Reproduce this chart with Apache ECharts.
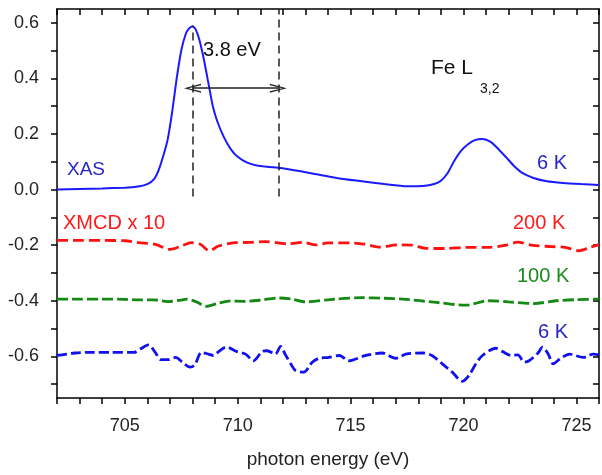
<!DOCTYPE html>
<html><head><meta charset="utf-8">
<script src="https://cdn.jsdelivr.net/npm/echarts@6/dist/echarts.min.js"></script>
<style>html,body{margin:0;padding:0;background:#fff}#c{width:602px;height:475px}</style>
</head><body><div id="c"></div>
<script>
// XAS (6 K)
const xasE = [702.0,703.0,704.0,705.0,705.5,706.0,706.3,706.5,706.7,706.9,707.1,707.3,707.5,707.7,707.85,708.0,708.15,708.3,708.5,708.7,708.9,709.1,709.4,709.7,710.0,710.4,710.8,711.3,711.9,712.8,713.5,714.5,715.5,716.5,717.5,718.2,718.7,719.0,719.3,719.6,719.9,720.2,720.5,720.85,721.2,721.5,721.9,722.25,722.6,723.1,723.7,724.4,725.2,726.0];
const xasV = [0.000,0.002,0.004,0.007,0.010,0.020,0.038,0.07,0.12,0.18,0.28,0.40,0.50,0.56,0.58,0.588,0.575,0.54,0.47,0.385,0.30,0.245,0.187,0.145,0.118,0.098,0.088,0.082,0.078,0.066,0.055,0.040,0.030,0.020,0.012,0.013,0.020,0.032,0.06,0.105,0.14,0.163,0.178,0.182,0.172,0.15,0.115,0.084,0.06,0.042,0.030,0.024,0.020,0.017];
// XMCD x 10, 200 K
const x200E = [702,703,704,705,705.6,706.35,707.0,707.5,707.95,708.35,708.75,709.15,709.9,710.5,711.2,712.2,712.9,713.45,714.0,715.0,715.6,716.25,717.1,717.7,718.3,719.2,720.1,721.0,721.9,722.4,723.0,723.9,724.5,725.1,725.6,726];
const x200V = [-0.183,-0.183,-0.183,-0.184,-0.191,-0.197,-0.215,-0.203,-0.191,-0.197,-0.22,-0.203,-0.191,-0.19,-0.187,-0.195,-0.19,-0.199,-0.192,-0.192,-0.196,-0.207,-0.199,-0.2,-0.211,-0.212,-0.208,-0.208,-0.2,-0.189,-0.2,-0.205,-0.208,-0.22,-0.208,-0.198];
// XMCD x 10, 100 K
const x100E = [702,703,704,705,705.6,706.3,706.9,707.4,707.75,708.2,708.6,709.1,709.6,710.3,711.0,711.8,712.4,713.0,714.3,715.5,716.5,717.3,718.8,720.1,721.1,722.0,723.1,724.1,725,726];
const x100V = [-0.394,-0.394,-0.394,-0.395,-0.397,-0.397,-0.403,-0.399,-0.394,-0.405,-0.42,-0.41,-0.401,-0.402,-0.398,-0.39,-0.394,-0.404,-0.394,-0.389,-0.391,-0.394,-0.406,-0.416,-0.40,-0.404,-0.41,-0.40,-0.396,-0.394];
// XMCD x 10, 6 K
const x6E = [702,702.8,703.4,704.4,705.4,705.7,706.05,706.35,706.6,706.95,707.25,707.55,707.9,708.1,708.4,708.7,708.93,709.08,709.5,709.97,710.35,710.7,711.08,711.3,711.67,711.9,712.1,712.35,712.56,712.93,713.3,713.6,714.04,714.5,714.93,715.67,716.4,717.0,717.45,718.2,718.6,719.06,719.5,719.95,720.24,720.55,720.84,721.43,721.73,722.1,722.4,722.7,722.9,723.3,723.5,723.75,723.97,724.27,724.7,725.3,725.75,726];
const x6V = [-0.597,-0.588,-0.586,-0.586,-0.586,-0.573,-0.559,-0.586,-0.612,-0.612,-0.604,-0.621,-0.639,-0.631,-0.586,-0.592,-0.597,-0.588,-0.567,-0.583,-0.592,-0.616,-0.583,-0.580,-0.592,-0.564,-0.592,-0.627,-0.651,-0.657,-0.621,-0.607,-0.604,-0.597,-0.616,-0.597,-0.588,-0.607,-0.592,-0.588,-0.597,-0.627,-0.657,-0.690,-0.669,-0.627,-0.597,-0.571,-0.583,-0.597,-0.595,-0.621,-0.616,-0.588,-0.567,-0.592,-0.627,-0.609,-0.592,-0.604,-0.592,-0.595];
// tick values
const xTicks = [702,703,704,705,706,707,708,709,710,711,712,713,714,715,716,717,718,719,720,721,722,723,724,725,726];
const xLabels = [705,710,715,720,725];
const yTicks = [-0.7,-0.6,-0.5,-0.4,-0.3,-0.2,-0.1,0,0.1,0.2,0.3,0.4,0.5,0.6];
const yLabels = [-0.6,-0.4,-0.2,0,0.2,0.4,0.6];
// annotation (3.8 eV)
const peakE = 708.0, edgeE = 711.8, arrowY = 0.365, peakY = 0.59, lineBottom = -0.025, topY = 0.65;

const zip = (a,b) => a.map((v,i)=>[v,b[i]]);
const FONT = 'Liberation Sans, Arial, sans-serif';
const chevron = 'path://M5,0 L10,10 L8.4,10 L5,2.6 L1.6,10 L0,10 Z';

const chart = echarts.init(document.getElementById('c'), null, {renderer:'canvas'});
const axBase = {type:'value', axisLine:{show:true,onZero:false,lineStyle:{color:'#000',width:1.5}}, splitLine:{show:false}};
chart.setOption({
  animation:false,
  backgroundColor:'#fff',
  grid:{left:57,right:3,top:9,bottom:77,containLabel:false},
  xAxis:[
    Object.assign({}, axBase, {min:702,max:726,position:'bottom',
      name:'photon energy (eV)', nameLocation:'middle', nameGap:52,
      nameTextStyle:{fontFamily:FONT,fontSize:19,color:'#222'},
      axisTick:{customValues:xTicks,length:6,inside:false,lineStyle:{color:'#000',width:1.5}},
      axisLabel:{customValues:xLabels,margin:19,fontFamily:FONT,fontSize:18,color:'#222'}}),
    Object.assign({}, axBase, {min:702,max:726,position:'top',
      axisTick:{customValues:xTicks,length:6,inside:true,lineStyle:{color:'#000',width:1.5}},
      axisLabel:{show:false}})
  ],
  yAxis:[
    Object.assign({}, axBase, {min:-0.75,max:0.65,position:'left',
      axisTick:{customValues:yTicks,length:6,inside:false,lineStyle:{color:'#000',width:1.5}},
      axisLabel:{customValues:yLabels,margin:18,fontFamily:FONT,fontSize:18,color:'#222',formatter:v=>v.toFixed(1)}}),
    Object.assign({}, axBase, {min:-0.75,max:0.65,position:'right',
      axisTick:{customValues:yTicks,length:6,inside:true,lineStyle:{color:'#000',width:1.5}},
      axisLabel:{show:false}})
  ],
  series:[
    {type:'line',name:'XAS',data:zip(xasE,xasV),showSymbol:false,smooth:0.2,
      lineStyle:{color:'#1a1aff',width:2},z:3,
      markLine:{silent:true,symbol:['none','none'],symbolSize:[9,17],label:{show:false},animation:false,
        lineStyle:{color:'#222',width:1.5,type:[8,5]},
        data:[
          [{coord:[peakE,lineBottom]},{coord:[peakE,peakY]}],
          [{coord:[edgeE,lineBottom]},{coord:[edgeE,topY]}],
          [{coord:[peakE,arrowY],symbol:chevron,symbolSize:[9,17],lineStyle:{type:'solid',color:'#222',width:1.5}},
           {coord:[edgeE,arrowY],symbol:chevron,symbolSize:[9,17]}]
        ]}},
    {type:'line',name:'200 K',data:zip(x200E,x200V),showSymbol:false,smooth:0.3,
      lineStyle:{color:'#ff1010',width:2.8,type:[11,5]}},
    {type:'line',name:'100 K',data:zip(x100E,x100V),showSymbol:false,smooth:0.3,
      lineStyle:{color:'#148a14',width:2.8,type:[11,4]}},
    {type:'line',name:'6 K XMCD',data:zip(x6E,x6V),showSymbol:false,smooth:0.3,
      lineStyle:{color:'#1010f0',width:2.8,type:[10,4]}}
  ],
  graphic:[
    {type:'text',left:203,top:40,style:{text:'3.8 eV',font:'20px '+FONT,fill:'#111'}},
    {type:'text',left:431,top:58,style:{text:'Fe L',font:'21px '+FONT,fill:'#111'}},
    {type:'text',left:480,top:82,style:{text:'3,2',font:'14px '+FONT,fill:'#111'}},
    {type:'text',left:67,top:160,style:{text:'XAS',font:'19px '+FONT,fill:'#2626c4'}},
    {type:'text',left:537,top:153,style:{text:'6 K',font:'20px '+FONT,fill:'#2626c4'}},
    {type:'text',left:63,top:213,style:{text:'XMCD x 10',font:'20px '+FONT,fill:'#ff1a1a'}},
    {type:'text',left:513,top:213,style:{text:'200 K',font:'20px '+FONT,fill:'#ff1a1a'}},
    {type:'text',left:517,top:266,style:{text:'100 K',font:'20px '+FONT,fill:'#1a8a1a'}},
    {type:'text',left:538,top:322,style:{text:'6 K',font:'20px '+FONT,fill:'#2626c4'}}
  ]
});
</script></body></html>
